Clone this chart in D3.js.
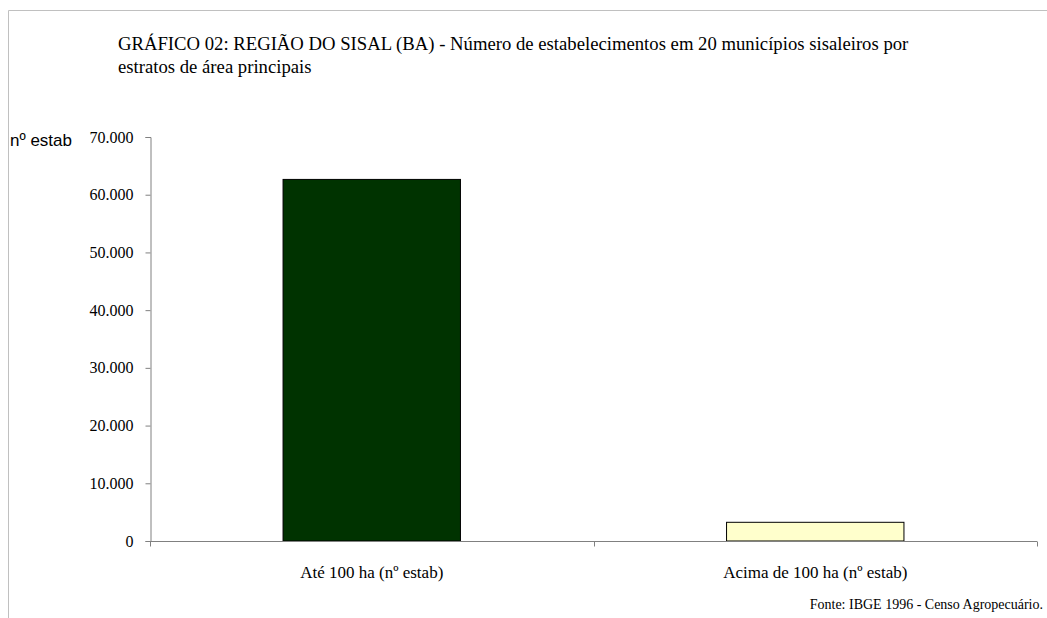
<!DOCTYPE html>
<html>
<head>
<meta charset="utf-8">
<script src="https://cdn.jsdelivr.net/npm/d3@7"></script>
<style>
  body { margin: 0; background: #fff; }
</style>
</head>
<body>
<div id="chart"></div>
<script>
// data
const categories = ["Até 100 ha (nº estab)", "Acima de 100 ha (nº estab)"];
const values = [62650, 3240];
const barColors = ["#003300", "#ffffcc"];
const yTicks = [0, 10000, 20000, 30000, 40000, 50000, 60000, 70000];

const SERIF = "'Liberation Serif', 'Times New Roman', serif";
const SANS = "'Liberation Sans', Arial, sans-serif";

const W = 1047, H = 618;
const svg = d3.select("#chart").append("svg")
    .attr("width", W).attr("height", H);

// outer frame (only left and top visible)
svg.append("path")
    .attr("d", `M8.5,${H} L8.5,10.5 L${W},10.5`)
    .attr("fill", "none")
    .attr("stroke", "#c0c0c0");

const x = d3.scaleBand()
    .domain(categories)
    .range([150, 1037])
    .paddingInner(0.6)
    .paddingOuter(0.3);

const y = d3.scaleLinear()
    .domain([0, 70000])
    .range([541, 137]);

const fmt = d => d3.format(",")(d).replace(/,/g, ".");

// bars
svg.selectAll("rect.bar")
    .data(values)
    .enter().append("rect")
    .attr("class", "bar")
    .attr("x", (d, i) => x(categories[i]))
    .attr("y", d => y(d))
    .attr("width", x.bandwidth())
    .attr("height", d => y(0) - y(d))
    .attr("fill", (d, i) => barColors[i])
    .attr("stroke", "#000")
    .attr("stroke-width", 1);

// y axis
const yAxis = svg.append("g")
    .attr("transform", "translate(150.5,0)")
    .call(d3.axisLeft(y).tickValues(yTicks).tickFormat(fmt).tickSize(5).tickPadding(12));
yAxis.select(".domain").attr("stroke", "#808080");
yAxis.selectAll(".tick line").attr("stroke", "#808080");
yAxis.selectAll("text")
    .attr("font-family", SERIF)
    .attr("font-size", 16)
    .attr("fill", "#000");

// x axis: ticks at band boundaries
const xAxisG = svg.append("g").attr("transform", "translate(0,541.5)");
xAxisG.append("line")
    .attr("x1", 150).attr("x2", 1037)
    .attr("stroke", "#808080");
const bounds = [x.range()[0], x.range()[0] + x.step(), x.range()[1]];
xAxisG.selectAll("line.tk")
    .data(bounds)
    .enter().append("line")
    .attr("class", "tk")
    .attr("x1", d => Math.round(d) + 0.5).attr("x2", d => Math.round(d) + 0.5)
    .attr("y1", 0).attr("y2", 5)
    .attr("stroke", "#808080");
xAxisG.selectAll("text")
    .data(categories)
    .enter().append("text")
    .attr("font-family", SERIF)
    .attr("x", d => x(d) + x.bandwidth() / 2)
    .attr("y", 36.5)
    .attr("text-anchor", "middle")
    .attr("font-size", 17)
    .text(d => d);

// title
const title = svg.append("text")
    .attr("font-family", SERIF)
    .attr("x", 118)
    .attr("y", 50)
    .attr("font-size", 18.7);
title.append("tspan").attr("x", 118).text("GRÁFICO 02: REGIÃO DO SISAL (BA) - Número de estabelecimentos em 20 municípios sisaleiros por");
title.append("tspan").attr("x", 118).attr("dy", 23).text("estratos de área principais");

// y label
svg.append("text")
    .attr("x", 10)
    .attr("y", 146)
    .attr("font-family", SANS)
    .attr("font-size", 17)
    .text("nº estab");

// source
svg.append("text")
    .attr("font-family", SERIF)
    .attr("x", 1043)
    .attr("y", 609)
    .attr("text-anchor", "end")
    .attr("font-size", 14)
    .text("Fonte: IBGE 1996 - Censo Agropecuário.");
</script>
</body>
</html>
